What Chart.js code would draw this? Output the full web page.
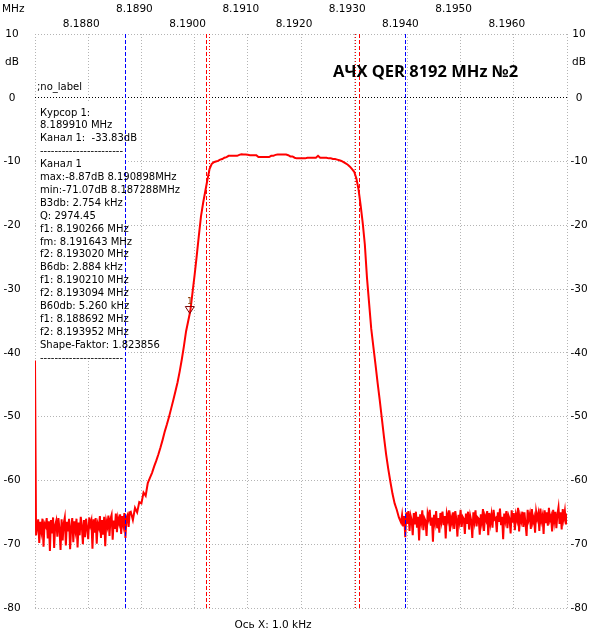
<!DOCTYPE html>
<html>
<head>
<meta charset="utf-8">
<title>АЧХ QER 8192 MHz №2</title>
<script src="https://cdn.jsdelivr.net/npm/chart.js@4.4.1/dist/chart.umd.min.js"></script>
<style>
    html, body { margin: 0; padding: 0; background: #fff; }
    #wrap { width: 601px; height: 643px; }
</style>
</head>
<body>
<div id="wrap"><canvas id="afcChart" width="601" height="643"></canvas></div>
<script>
// Trace in three pieces:
// noise floor left (every 0.02 kHz), filter response (every 0.04 kHz), noise floor right (every 0.02 kHz)
const leftNoiseStartMHz = 8.18700;
const leftNoiseStepKHz = 0.02;
const leftNoiseDb = [
    -41.2, -68.6, -67.4, -66.1, -69.8, -66.5, -67.9, -66.0, -70.4, -66.8,
    -67.2, -65.9, -69.1, -66.4, -71.07, -66.2, -68.3, -65.8, -70.6, -67.0,
    -66.3, -68.8, -65.9, -67.6, -70.9, -66.1, -69.4, -66.7, -65.8, -70.2,
    -66.5, -68.0, -66.0, -70.8, -67.3, -65.9, -69.7, -66.4, -67.8, -66.0,
    -70.5, -66.6, -68.6, -65.7, -67.1, -70.0, -66.2, -68.9, -66.0, -67.5,
    -69.2, -65.8, -67.0, -66.3, -70.7, -66.1, -68.2, -65.9, -69.9, -66.8,
    -67.4, -65.6, -69.0, -66.2, -68.5, -65.7, -70.3, -66.4, -67.2, -65.5,
    -68.7, -66.0, -65.4, -69.3, -66.3, -67.6, -65.2, -68.1, -65.9, -66.7,
    -65.3, -68.4, -65.6, -66.9, -65.1, -69.0, -65.8, -65.4, -67.3, -65.0
];

const responseStartMHz = 8.18880;
const responseStepKHz = 0.04;
const responseDb = [
    -64.9, -66.2, -64.3, -65.0, -63.4,
    -63.6, -61.9, -62.4, -60.4, -59.6, -58.8, -57.8, -56.9, -55.9, -54.8,
    -53.6, -52.3, -51.2, -50.0, -48.7, -47.4, -46.0, -44.6, -42.9, -41.0,
    -38.9, -36.6, -35.0, -33.4, -30.6, -27.8, -24.8, -21.6, -18.6, -16.5,
    -14.7, -12.9, -11.2, -10.4, -10.1, -10.0, -9.9, -9.7, -9.6, -9.4,
    -9.3, -9.1, -9.1, -9.1, -9.1, -9.1, -8.95, -8.87, -8.9, -8.9,
    -8.95, -9.0, -9.0, -9.0, -9.0, -9.3, -9.3, -9.3, -9.3, -9.3,
    -9.3, -9.1, -9.1, -8.95, -8.9, -8.9, -8.9, -8.9, -8.9, -9.0,
    -9.2, -9.2, -9.4, -9.5, -9.5, -9.5, -9.5, -9.5, -9.4, -9.4,
    -9.4, -9.4, -9.4, -9.1, -9.4, -9.4, -9.4, -9.4, -9.5, -9.5,
    -9.6, -9.6, -9.7, -9.8, -9.9, -10.1, -10.3, -10.5, -10.8, -11.2,
    -11.6, -12.6, -14.3, -16.8, -19.6, -23.0, -28.2, -32.2, -36.2, -39.0,
    -41.8, -44.7, -47.4, -50.3, -53.2, -55.9, -58.2, -60.2, -62.1, -63.6,
    -64.6, -65.8
];

const rightNoiseStartMHz = 8.19388;
const rightNoiseStepKHz = 0.02;
const rightNoiseDb = [
    -66.6, -65.4, -67.2, -65.6, -68.9, -65.0, -66.8, -64.8, -67.9, -65.5,
    -66.2, -68.6, -65.1, -66.9, -64.9, -67.4, -65.7, -69.4, -65.3, -66.5,
    -64.7, -67.8, -65.9, -66.3, -68.7, -65.2, -66.0, -64.6, -67.1, -65.8,
    -69.6, -65.4, -66.6, -64.8, -67.5, -65.9, -68.2, -65.1, -66.4, -64.9,
    -67.0, -65.6, -69.1, -65.3, -66.2, -64.7, -68.0, -65.8, -66.7, -65.0,
    -67.6, -64.8, -66.1, -68.8, -65.4, -66.5, -64.6, -67.3, -65.7, -66.0,
    -68.4, -65.2, -66.8, -64.9, -67.7, -65.5, -66.3, -69.0, -65.0, -66.4,
    -64.7, -67.2, -65.8, -66.0, -68.5, -65.3, -66.6, -64.5, -67.9, -65.6,
    -66.2, -64.8, -68.6, -65.1, -66.7, -65.4, -67.4, -64.6, -66.1, -65.9,
    -68.1, -65.0, -66.5, -64.4, -67.0, -65.7, -69.2, -65.2, -66.3, -64.8,
    -67.5, -65.5, -66.0, -68.3, -64.7, -66.6, -65.1, -67.8, -65.4, -66.2,
    -64.3, -68.0, -65.6, -66.4, -64.9, -67.3, -65.0, -66.8, -68.7, -64.6,
    -66.1, -65.3, -67.6, -64.5, -66.5, -65.8, -68.2, -64.9, -66.0, -65.2,
    -67.9, -64.4, -66.3, -65.5, -68.4, -64.7, -66.7, -65.0, -67.1, -64.3,
    -66.2, -65.6, -68.0, -64.6, -66.4, -64.9, -67.5, -65.3, -64.2, -66.8,
    -65.0, -67.7, -64.5, -66.0, -64.8, -66.9, -65.2
];

// Axis labels (two staggered rows on top)
const xTicksUpper = ['8.1890', '8.1910', '8.1930', '8.1950'];
const xTicksLower = ['8.1880', '8.1900', '8.1920', '8.1940', '8.1960'];
const yTicks = [10, 0, -10, -20, -30, -40, -50, -60, -70, -80];

// Cursor and bandwidth markers
const cursorMHz = 8.189910;
const cursorDb = -33.83;
const b3dbMHz = [8.190266, 8.193020];
const b6dbMHz = [8.190210, 8.193094];
const b60dbMHz = [8.188692, 8.193952];

const infoLines = [
    'Курсор 1:',
    '8.189910 MHz',
    'Канал 1:  -33.83dB',
    '-----------------------',
    'Канал 1',
    'max:-8.87dB 8.190898MHz',
    'min:-71.07dB 8.187288MHz',
    'B3db: 2.754 kHz',
    'Q: 2974.45',
    'f1: 8.190266 MHz',
    'fm: 8.191643 MHz',
    'f2: 8.193020 MHz',
    'B6db: 2.884 kHz',
    'f1: 8.190210 MHz',
    'f2: 8.193094 MHz',
    'B60db: 5.260 kHz',
    'f1: 8.188692 MHz',
    'f2: 8.193952 MHz',
    'Shape-Faktor: 1.823856',
    '-----------------------'
];

const LABEL_FONT = '10.5px "DejaVu Sans"';
const INFO_FONT = '10px "DejaVu Sans"';

function piecePoints(startMHz, stepKHz, values) {
    return values.map((db, i) => ({ x: startMHz + i * stepKHz / 1000, y: db }));
}

function tracePoints() {
    return [].concat(
        piecePoints(leftNoiseStartMHz, leftNoiseStepKHz, leftNoiseDb),
        piecePoints(responseStartMHz, responseStepKHz, responseDb),
        piecePoints(rightNoiseStartMHz, rightNoiseStepKHz, rightNoiseDb)
    );
}

function vLine(ctx, px, area, color, dash) {
    const x = Math.round(px) + 0.5;
    ctx.save();
    ctx.strokeStyle = color;
    ctx.lineWidth = 1;
    ctx.setLineDash(dash);
    ctx.beginPath();
    ctx.moveTo(x, area.top);
    ctx.lineTo(x, area.bottom);
    ctx.stroke();
    ctx.restore();
}

function drawAxisLabels(chart) {
    const ctx = chart.ctx;
    const xs = chart.scales.x;
    const ys = chart.scales.y;
    const area = chart.chartArea;

    ctx.save();
    ctx.fillStyle = '#000';
    ctx.font = LABEL_FONT;
    ctx.textBaseline = 'middle';

    ctx.textAlign = 'left';
    ctx.fillText('MHz', 2, 9);

    ctx.textAlign = 'center';
    xTicksUpper.forEach(t => ctx.fillText(t, xs.getPixelForValue(parseFloat(t)) - 7, 9));
    xTicksLower.forEach(t => ctx.fillText(t, xs.getPixelForValue(parseFloat(t)) - 7, 24));

    yTicks.forEach(v => {
        const py = ys.getPixelForValue(v);
        ctx.fillText(String(v), 12, py);
        ctx.fillText(String(v), 579, py);
    });
    ctx.fillText('dB', 12, ys.getPixelForValue(5.5));
    ctx.fillText('dB', 579, ys.getPixelForValue(5.5));

    ctx.fillText('Ось X: 1.0 kHz', (area.left + area.right) / 2 - 28, 625);
    ctx.restore();
}

function drawCursor(chart) {
    const ctx = chart.ctx;
    const px = chart.scales.x.getPixelForValue(cursorMHz);
    const py = chart.scales.y.getPixelForValue(cursorDb);

    ctx.save();
    ctx.strokeStyle = '#800000';
    ctx.lineWidth = 1;
    ctx.beginPath();
    ctx.moveTo(px - 4.5, py - 7);
    ctx.lineTo(px + 4.5, py - 7);
    ctx.lineTo(px, py);
    ctx.closePath();
    ctx.stroke();
    ctx.fillStyle = '#8b3a00';
    ctx.font = '9px "DejaVu Sans"';
    ctx.textAlign = 'center';
    ctx.textBaseline = 'middle';
    ctx.fillText('1', px, py - 12);
    ctx.restore();
}

function drawInfoBox(chart) {
    const ctx = chart.ctx;
    const area = chart.chartArea;

    ctx.save();
    ctx.fillStyle = '#fff';
    ctx.fillRect(area.left + 1, 101, 89, 259);

    ctx.fillStyle = '#000';
    ctx.font = INFO_FONT;
    ctx.textAlign = 'left';
    ctx.textBaseline = 'middle';
    ctx.fillText(';no_label', 37, 87);
    infoLines.forEach((line, i) => ctx.fillText(line, 40, 113 + i * 12.9));

    // title
    ctx.font = 'bold 16.5px "Open Sans"';
    ctx.fillText('АЧХ QER 8192 MHz №2', 333, 72);
    ctx.restore();
}

const overlayPlugin = {
    id: 'overlay',
    beforeDraw(chart) {
        const ctx = chart.ctx;
        ctx.save();
        ctx.fillStyle = '#fff';
        ctx.fillRect(0, 0, chart.width, chart.height);
        ctx.restore();
    },
    afterDatasetsDraw(chart) {
        const xs = chart.scales.x;
        const area = chart.chartArea;

        b60dbMHz.forEach(f => vLine(chart.ctx, xs.getPixelForValue(f), area, '#0000ff', [4, 2]));
        b6dbMHz.forEach(f => vLine(chart.ctx, xs.getPixelForValue(f), area, '#ff0000', [4, 2]));
        b3dbMHz.forEach(f => vLine(chart.ctx, xs.getPixelForValue(f), area, '#ff0000', [1, 2]));

        drawCursor(chart);
        drawInfoBox(chart);
        drawAxisLabels(chart);
    }
};

function initializeChart() {
    new Chart(document.getElementById('afcChart'), {
        type: 'line',
        data: {
            datasets: [{
                label: 'Канал 1',
                data: tracePoints(),
                borderColor: '#ff0000',
                borderWidth: 2,
                borderJoinStyle: 'miter',
                pointRadius: 0,
                tension: 0,
                fill: false
            }]
        },
        options: {
            responsive: false,
            animation: false,
            devicePixelRatio: 1,
            layout: { padding: { left: 35, right: 34, top: 34, bottom: 35 } },
            plugins: {
                legend: { display: false },
                tooltip: { enabled: false }
            },
            scales: {
                x: {
                    type: 'linear',
                    min: 8.187,
                    max: 8.197,
                    ticks: { display: false, stepSize: 0.001 },
                    grid: { color: '#b4b4b4', lineWidth: 1, drawTicks: false },
                    border: { display: false, dash: [1, 2] }
                },
                y: {
                    min: -80,
                    max: 10,
                    ticks: { display: false, stepSize: 10 },
                    grid: {
                        color: ctx => (ctx.tick && ctx.tick.value === 0) ? '#000' : '#b4b4b4',
                        lineWidth: 1,
                        drawTicks: false
                    },
                    border: { display: false, dash: [1, 2] }
                }
            }
        },
        plugins: [overlayPlugin]
    });
}

document.addEventListener('DOMContentLoaded', initializeChart);
</script>
</body>
</html>
